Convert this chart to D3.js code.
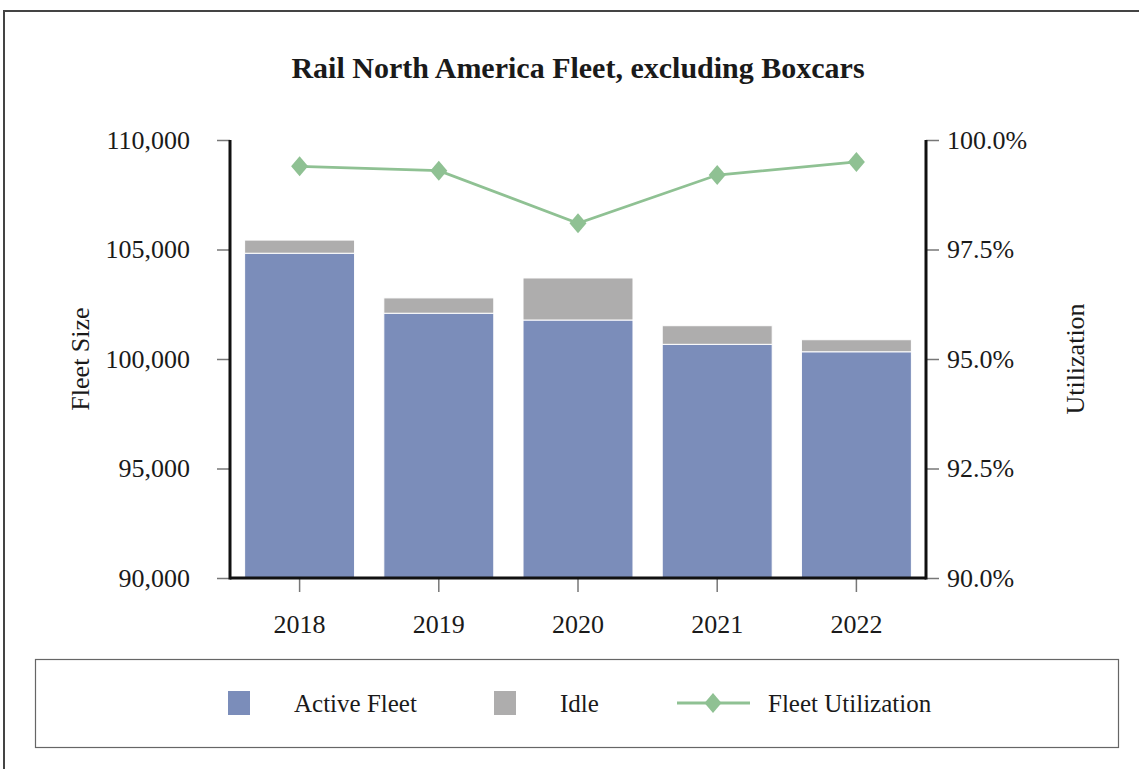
<!DOCTYPE html>
<html><head><meta charset="utf-8">
<script src="https://cdn.jsdelivr.net/npm/d3@7"></script>
<style>body{margin:0;background:#fff}svg{display:block}text{font-family:"Liberation Serif","Times New Roman",serif;fill:#1a1a1a}</style>
</head><body>
<svg id="c" width="1139" height="769"></svg>
<script>
const years = ["2018","2019","2020","2021","2022"];
const activeFleet = [104830, 102090, 101780, 100670, 100330];
const idleFleet = [600, 700, 1920, 850, 550];
const utilization = [99.4, 99.3, 98.1, 99.2, 99.5];
const leftTicks = [90000, 95000, 100000, 105000, 110000];
const rightTicks = [90, 92.5, 95, 97.5, 100];

const svg = d3.select("#c");
const m = {l:230, r:926, t:140, b:578};
const x = d3.scaleBand().domain(years).range([m.l, m.r]).paddingInner(0.21).paddingOuter(0.105);
const yL = d3.scaleLinear().domain([90000,110000]).range([m.b, m.t]);
const yR = d3.scaleLinear().domain([90,100]).range([m.b, m.t]);

// outer frame
svg.append("rect").attr("x",4).attr("y",11).attr("width",1150).attr("height",780)
  .attr("fill","none").attr("stroke","#444").attr("stroke-width",2);

svg.append("text").attr("x",578).attr("y",78).attr("text-anchor","middle")
  .style("font-size","30px").style("font-weight","bold").text("Rail North America Fleet, excluding Boxcars");

// bars
const g = svg.append("g");
years.forEach((yr,i)=>{
  g.append("rect").attr("x",x(yr)).attr("width",x.bandwidth())
    .attr("y",yL(activeFleet[i])).attr("height",yL(90000)-yL(activeFleet[i]))
    .attr("fill","#7B8DBA").attr("stroke","#fff").attr("stroke-width",1);
  g.append("rect").attr("x",x(yr)).attr("width",x.bandwidth())
    .attr("y",yL(activeFleet[i]+idleFleet[i])).attr("height",yL(activeFleet[i])-yL(activeFleet[i]+idleFleet[i]))
    .attr("fill","#AEADAD").attr("stroke","#fff").attr("stroke-width",1);
});

// axes
const axL = svg.append("g").attr("transform",`translate(${m.l},0)`)
  .call(d3.axisLeft(yL).tickValues(leftTicks).tickSize(13).tickPadding(27).tickFormat(d3.format(",")));
const axR = svg.append("g").attr("transform",`translate(${m.r},0)`)
  .call(d3.axisRight(yR).tickValues(rightTicks).tickSize(13).tickPadding(8).tickFormat(d=>d.toFixed(1)+"%"));
const axB = svg.append("g").attr("transform",`translate(0,${m.b})`)
  .call(d3.axisBottom(x).tickSize(14).tickPadding(23));
[axL,axR,axB].forEach(a=>{
  a.select(".domain").remove();
  a.selectAll(".tick line").attr("stroke","#777").attr("stroke-width",1.5);
  a.selectAll("text").style("font-size","26px").style("font-family","Liberation Serif").attr("fill","#1a1a1a");
});
// axis lines
svg.append("line").attr("x1",m.l).attr("x2",m.l).attr("y1",m.t).attr("y2",m.b+1.5).attr("stroke","#111").attr("stroke-width",3);
svg.append("line").attr("x1",m.r).attr("x2",m.r).attr("y1",m.t).attr("y2",m.b+1.5).attr("stroke","#111").attr("stroke-width",3);
svg.append("line").attr("x1",m.l).attr("x2",m.r).attr("y1",m.b).attr("y2",m.b).attr("stroke","#111").attr("stroke-width",3);

svg.append("text").attr("transform",`translate(89,359) rotate(-90)`).attr("text-anchor","middle")
  .style("font-size","26px").text("Fleet Size");
svg.append("text").attr("transform",`translate(1084,359) rotate(-90)`).attr("text-anchor","middle")
  .style("font-size","26px").text("Utilization");

// line
const cx = d => x(d)+x.bandwidth()/2;
const line = d3.line().x((d,i)=>cx(years[i])).y(d=>yR(d));
svg.append("path").datum(utilization).attr("d",line).attr("fill","none").attr("stroke","#8FC193").attr("stroke-width",2.8);
const diamond = "M0,-10L8.5,0L0,10L-8.5,0Z";
svg.selectAll(".dm").data(utilization).enter().append("path").attr("class","dm")
  .attr("transform",(d,i)=>`translate(${cx(years[i])},${yR(d)})`).attr("d",diamond).attr("fill","#8FC193");

// legend
svg.append("rect").attr("x",35.5).attr("y",659.5).attr("width",1083).attr("height",88)
  .attr("fill","none").attr("stroke","#666").attr("stroke-width",1.2);
const ly = 703;
svg.append("rect").attr("x",228).attr("y",691).attr("width",22).attr("height",24).attr("fill","#7B8DBA");
svg.append("text").attr("x",294).attr("y",ly+9).style("font-size","25px").text("Active Fleet");
svg.append("rect").attr("x",494).attr("y",691).attr("width",22).attr("height",24).attr("fill","#AEADAD");
svg.append("text").attr("x",560).attr("y",ly+9).style("font-size","25px").text("Idle");
svg.append("line").attr("x1",677).attr("x2",750).attr("y1",ly).attr("y2",ly).attr("stroke","#8FC193").attr("stroke-width",2.8);
svg.append("path").attr("transform",`translate(713,${ly})`).attr("d",diamond).attr("fill","#8FC193");
svg.append("text").attr("x",768).attr("y",ly+9).style("font-size","25px").text("Fleet Utilization");
</script>
</body></html>
